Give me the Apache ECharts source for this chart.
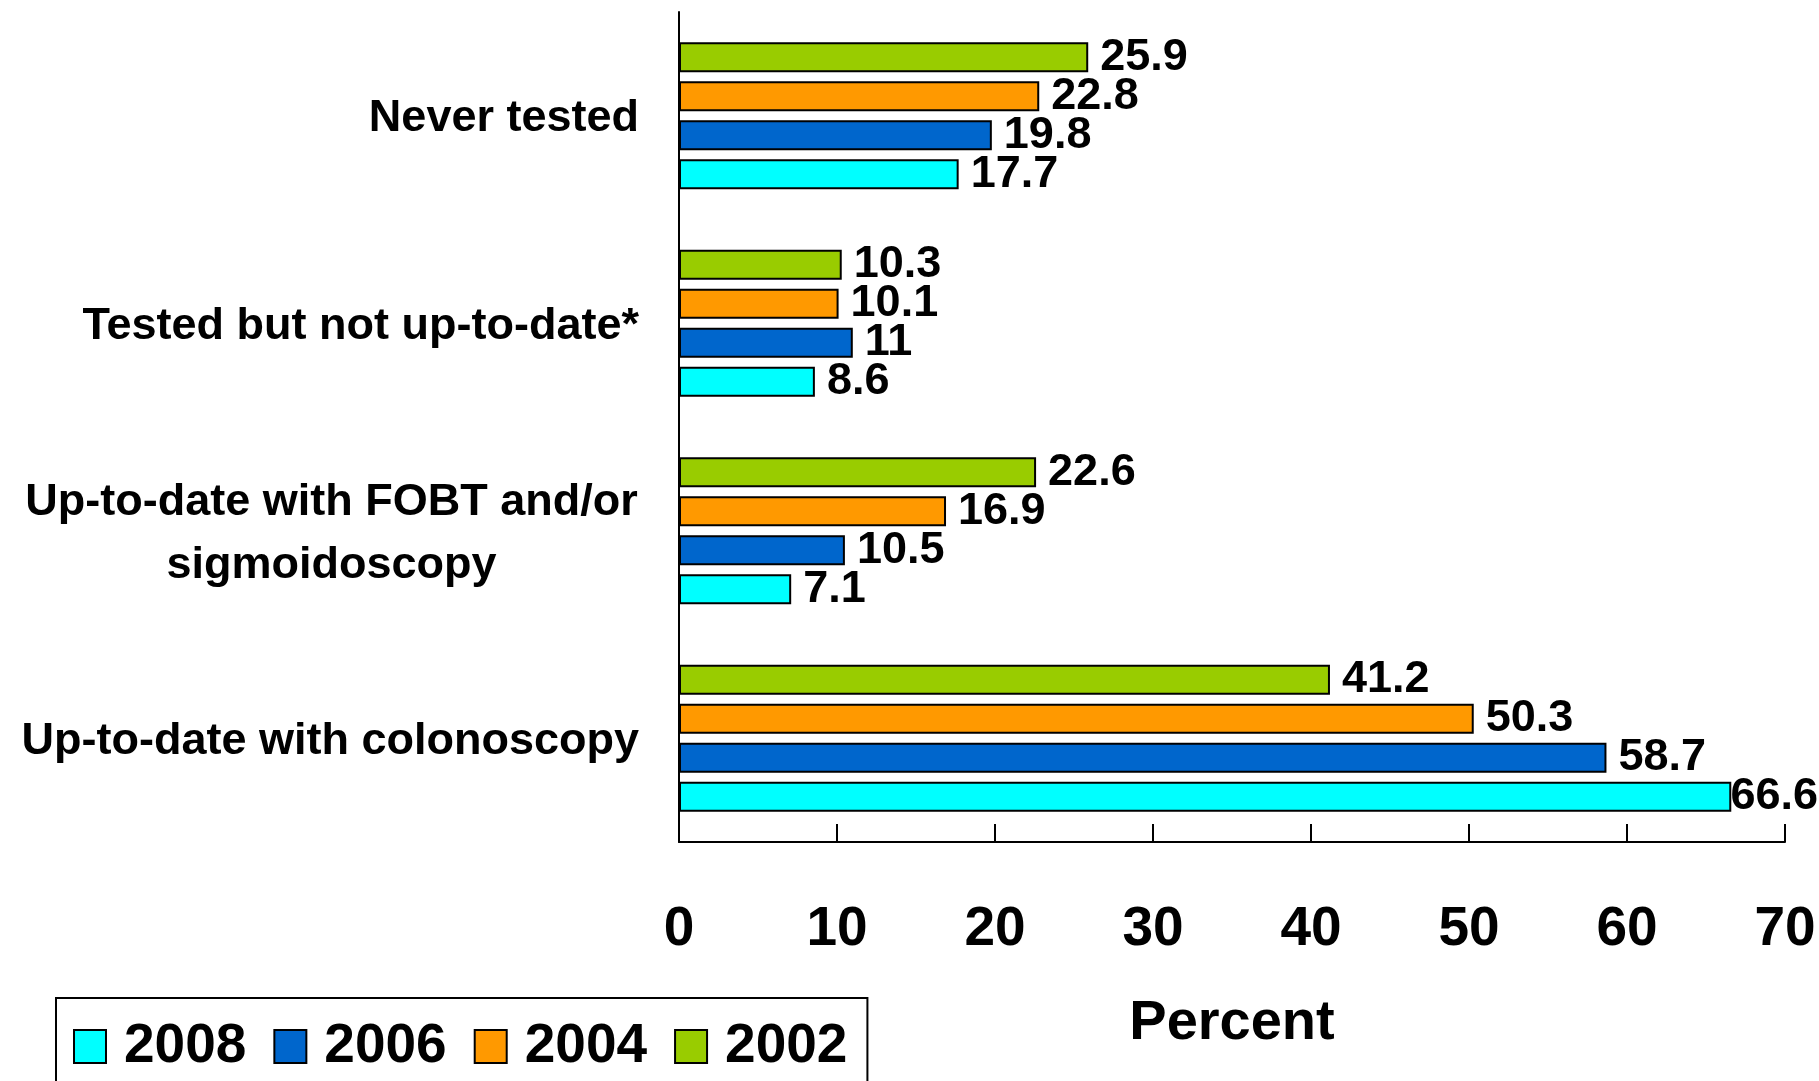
<!DOCTYPE html>
<html>
<head>
<meta charset="utf-8">
<script src="https://cdn.jsdelivr.net/npm/echarts@6/dist/echarts.min.js"></script>
<style>
html,body{margin:0;padding:0;background:#fff;}
#chart{width:1819px;height:1081px;}
</style>
</head>
<body>
<div id="chart"></div>
<script>
// Categories listed bottom to top (category axis runs upward)
var categories = [
  "Up-to-date with colonoscopy",
  "Up-to-date with FOBT and/or\nsigmoidoscopy",
  "Tested but not up-to-date*",
  "Never tested"
];
var years = ["2008", "2006", "2004", "2002"];
var values2008 = [66.6, 7.1, 8.6, 17.7];
var values2006 = [58.7, 10.5, 11, 19.8];
var values2004 = [50.3, 16.9, 10.1, 22.8];
var values2002 = [41.2, 22.6, 10.3, 25.9];
var xTicks = [0, 10, 20, 30, 40, 50, 60, 70];

var colorByYear = {"2008": "#00FFFF", "2006": "#0066CC", "2004": "#FF9900", "2002": "#99CC00"};
var valuesByYear = {"2008": values2008, "2006": values2006, "2004": values2004, "2002": values2002};
var FONT = "'Liberation Sans', Arial, Helvetica, sans-serif";

// measure the widest line of the two-line label for centring
var ctx = document.createElement('canvas').getContext('2d');
ctx.font = "bold 45px 'Liberation Sans', Arial, sans-serif";
var wrapWidth = Math.ceil(ctx.measureText("Up-to-date with FOBT and/or").width) + 2;

var chart = echarts.init(document.getElementById('chart'), null, {renderer: 'canvas'});
var W = 1819;

// series drawn top-to-bottom within each group: 2002, 2004, 2006, 2008
var seriesOrder = years.slice().reverse();
var series = seriesOrder.map(function (y) {
  return {
    name: y,
    type: 'bar',
    data: valuesByYear[y],
    barWidth: 30,
    barGap: '30%',
    itemStyle: {color: colorByYear[y], borderColor: '#000', borderWidth: 2},
    label: {
      show: true,
      position: 'right',
      distance: 12,
      color: '#000',
      fontFamily: FONT,
      fontWeight: 'bold',
      fontSize: 45
    },
    labelLayout: function (p) {
      var over = p.labelRect.x + p.labelRect.width - (W - 1);
      if (over > 0) { return {dx: -over}; }
      return {};
    }
  };
});

chart.setOption({
  animation: false,
  backgroundColor: '#fff',
  grid: {left: 679, right: 34, top: 12, bottom: 239, containLabel: false},
  legend: {
    data: years,
    orient: 'horizontal',
    left: 56,
    top: 998,
    itemWidth: 32,
    itemHeight: 33,
    itemGap: 27,
    padding: [21, 20, 17, 17],
    borderColor: '#000',
    borderWidth: 2,
    icon: 'rect',
    itemStyle: {borderColor: '#000', borderWidth: 2},
    textStyle: {
      color: '#000',
      fontFamily: FONT,
      fontWeight: 'bold',
      fontSize: 55,
      padding: [0, 0, 0, 13]
    }
  },
  xAxis: {
    type: 'value',
    min: xTicks[0],
    max: xTicks[xTicks.length - 1],
    interval: 10,
    name: 'Percent',
    nameLocation: 'middle',
    nameGap: 154,
    nameTextStyle: {color: '#000', fontFamily: FONT, fontWeight: 'bold', fontSize: 56},
    axisLine: {show: true, lineStyle: {color: '#000', width: 2}},
    axisTick: {show: true, inside: true, length: 18, lineStyle: {color: '#000', width: 2}},
    splitLine: {show: false},
    axisLabel: {
      color: '#000',
      fontFamily: FONT,
      fontWeight: 'bold',
      fontSize: 55,
      margin: 60
    }
  },
  yAxis: {
    type: 'category',
    data: categories,
    axisLine: {show: true, lineStyle: {color: '#000', width: 2}},
    axisTick: {show: false},
    splitLine: {show: false},
    axisLabel: {
      color: '#000',
      fontFamily: FONT,
      fontWeight: 'bold',
      fontSize: 45,
      lineHeight: 63,
      margin: 40,
      padding: [6, 0, 0, 0],
      formatter: function (v) {
        if (v.indexOf('\n') >= 0) {
          return v.split('\n').map(function (s) { return '{c|' + s + '}'; }).join('\n');
        }
        return v;
      },
      rich: {
        c: {
          width: wrapWidth,
          align: 'center',
          color: '#000',
          fontFamily: FONT,
          fontWeight: 'bold',
          fontSize: 45,
          lineHeight: 63
        }
      }
    }
  },
  series: series
});
</script>
</body>
</html>
